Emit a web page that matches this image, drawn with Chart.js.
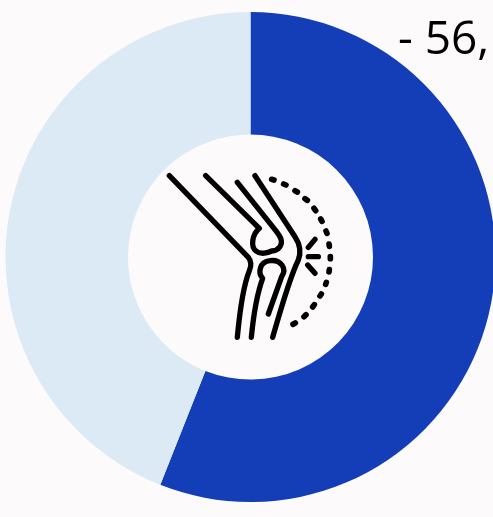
<!DOCTYPE html>
<html><head><meta charset="utf-8">
<script src="https://cdn.jsdelivr.net/npm/chart.js@4"></script>
<style>
html,body{margin:0;padding:0;width:493px;height:517px;overflow:hidden;background:#fcfafb}
#c{position:absolute;left:5px;top:12px}
#t{position:absolute;left:398px;top:5px;font:46px "Open Sans","Noto Sans",sans-serif;color:#000;line-height:62px;white-space:nowrap}
svg{position:absolute;left:130px;top:140px}
</style></head><body>
<canvas id="c" width="491" height="490"></canvas>
<div id="t">- 56,</div>
<svg width="240" height="240" viewBox="0 0 720 720" fill="none" stroke="#000" stroke-width="16" stroke-linecap="round" stroke-linejoin="round">
<path d="M118 107L355 352Q368 368 358 392Q335 450 322 592"/>
<path d="M227 107L388 265C365 285 362 320 378 333C392 345 415 338 425 333C445 332 460 315 452 295C447 283 440 275 432 265L322 127"/>
<path d="M364 592C370 530 378 470 398 415C383 400 388 365 420 362C452 358 472 385 455 410L415 522"/>
<path d="M375 107L495 290Q518 325 505 360Q480 410 428 592"/>
<path d="M535 322L555 298M535 350L565 350M533 375L555 400"/>
<path stroke-width="17" d="M425 118L432 120M461 132L468 135M495 152L502 156M525 176L532 181M552 205L557 212M572 237L576 244M588 273L591 280M597 312L598 319M601 350L601 356M598 389L597 396M589 427L587 433M574 462L570 468M553 494L548 501M528 524L522 530M496 549L489 553"/>
</svg>
<script>
const categories = ["A", "B"];
const values = [56, 44];
const colors = ["#143eb7", "#dceaf5"];
new Chart(document.getElementById("c"), {
  type: "doughnut",
  data: { labels: categories, datasets: [{ data: values, backgroundColor: colors, borderWidth: 0 }] },
  options: {
    responsive: false, animation: false, cutout: "50%",
    layout: { padding: 0 },
    plugins: { legend: { display: false }, tooltip: { enabled: false } }
  }
});
</script>
</body></html>
